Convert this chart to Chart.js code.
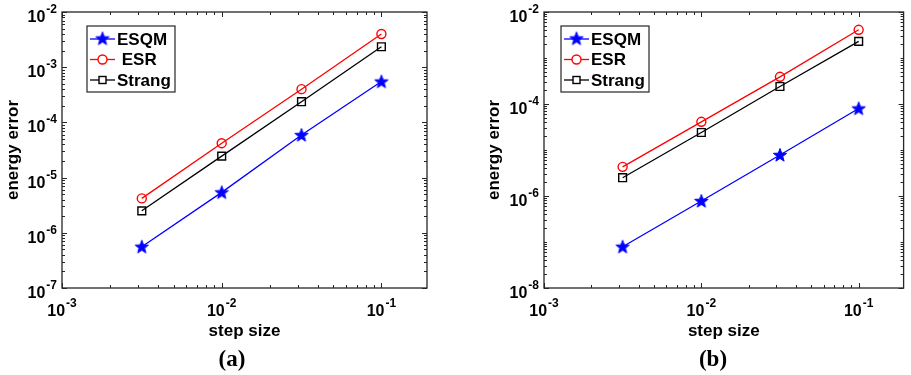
<!DOCTYPE html>
<html lang="en">
<head>
    <meta charset="UTF-8">
    <title>energy error vs step size</title>
    <script src="https://cdn.jsdelivr.net/npm/chart.js"></script>
    <style>
        body { margin: 0; background: #fff; }
        #wrapA { position: absolute; left: 0; top: 0; }
        #wrapB { position: absolute; left: 460px; top: 0; }
    </style>
</head>
<body>
    <div id="wrapA"><canvas id="chartA" width="460" height="375"></canvas></div>
    <div id="wrapB"><canvas id="chartB" width="451" height="375"></canvas></div>

    <script>
        // step sizes (x) shared by both panels
        var stepSizes = [0.00316, 0.01, 0.0316, 0.1];

        // panel (a)
        var esqmA   = [5.6e-7, 5.4e-6, 5.9e-5, 5.5e-4];
        var esrA    = [4.2e-6, 4.2e-5, 4.0e-4, 4.0e-3];
        var strangA = [2.5e-6, 2.45e-5, 2.37e-4, 2.35e-3];

        // panel (b)
        var esqmB   = [7.9e-8, 7.8e-7, 7.8e-6, 8.0e-5];
        var esrB    = [4.3e-6, 4.1e-5, 3.9e-4, 4.1e-3];
        var strangB = [2.5e-6, 2.4e-5, 2.4e-4, 2.3e-3];

        // labelled ticks
        var xTicks  = [1e-3, 1e-2, 1e-1];
        var yTicksA = [1e-7, 1e-6, 1e-5, 1e-4, 1e-3, 1e-2];
        var yTicksB = [1e-8, 1e-6, 1e-4, 1e-2];

        var axisColor = '#262626';
        var sansBold = 'bold 16px "Liberation Sans", Arial, sans-serif';
        var supBold = 'bold 12px "Liberation Sans", Arial, sans-serif';

        function makeStar(color) {
            var c = document.createElement('canvas');
            c.width = 18; c.height = 18;
            var g = c.getContext('2d');
            g.beginPath();
            for (var i = 0; i < 10; i++) {
                var r = i % 2 ? 2.9 : 7.0;
                var a = -Math.PI / 2 + i * Math.PI / 5;
                g.lineTo(9 + r * Math.cos(a), 9.5 + r * Math.sin(a));
            }
            g.closePath();
            g.fillStyle = color;
            g.fill();
            g.strokeStyle = color;
            g.lineWidth = 1;
            g.stroke();
            return c;
        }
        var starImg = makeStar('#0000ff');

        function pts(ys) {
            return stepSizes.map(function (s, i) { return { x: s, y: ys[i] }; });
        }

        function series(label, ys, color, style, radius) {
            return {
                label: label,
                data: pts(ys),
                borderColor: color,
                backgroundColor: 'transparent',
                borderWidth: 1.3,
                pointStyle: style,
                pointRadius: radius,
                pointBorderColor: color,
                pointBackgroundColor: 'transparent',
                pointBorderWidth: 1.4,
                tension: 0
            };
        }

        function expStr(v) {
            return String(Math.round(Math.log10(v)));
        }

        // "10" with a superscript exponent
        function drawPow(ctx, v, x, y, align) {
            var e = expStr(v);
            ctx.font = sansBold;
            var w1 = ctx.measureText('10').width;
            ctx.font = supBold;
            var w2 = ctx.measureText(e).width + 1;
            var x0 = align === 'right' ? x - w1 - w2 : x - (w1 + w2) / 2;
            ctx.textAlign = 'left';
            ctx.textBaseline = 'alphabetic';
            ctx.fillStyle = '#000';
            ctx.font = sansBold;
            ctx.fillText('10', x0, y);
            ctx.font = supBold;
            ctx.fillText(e, x0 + w1 + 1, y - 9);
        }

        function decades(min, max) {
            var out = [];
            for (var p = Math.floor(Math.log10(min)); p <= Math.ceil(Math.log10(max)); p++) {
                for (var m = 1; m <= 9; m++) {
                    var v = m * Math.pow(10, p);
                    if (v >= min * 0.999 && v <= max * 1.001) out.push(v);
                }
            }
            return out;
        }

        function isMajor(v, list) {
            return list.some(function (t) { return Math.abs(Math.log10(t) - Math.log10(v)) < 1e-6; });
        }

        var axesPlugin = {
            id: 'matlabAxes',
            afterDatasetsDraw: function (chart, args, opts) {
                var ctx = chart.ctx;
                var a = chart.chartArea;
                var xs = chart.scales.x, ys = chart.scales.y;
                ctx.save();

                // ticks on all four sides
                ctx.strokeStyle = axisColor;
                ctx.lineWidth = 1;
                decades(xs.min, xs.max).forEach(function (v) {
                    var px = Math.round(xs.getPixelForValue(v)) + 0.5;
                    var len = isMajor(v, opts.xTicks) ? 5 : 3;
                    ctx.beginPath();
                    ctx.moveTo(px, a.bottom); ctx.lineTo(px, a.bottom - len);
                    ctx.moveTo(px, a.top); ctx.lineTo(px, a.top + len);
                    ctx.stroke();
                });
                decades(ys.min, ys.max).forEach(function (v) {
                    var py = Math.round(ys.getPixelForValue(v)) + 0.5;
                    var len = isMajor(v, opts.yTicks) ? 5 : 3;
                    ctx.beginPath();
                    ctx.moveTo(a.left, py); ctx.lineTo(a.left + len, py);
                    ctx.moveTo(a.right, py); ctx.lineTo(a.right - len, py);
                    ctx.stroke();
                });

                // box
                ctx.lineWidth = 1.3;
                ctx.strokeRect(a.left, a.top, a.right - a.left, a.bottom - a.top);

                // tick labels
                opts.xTicks.forEach(function (v) {
                    drawPow(ctx, v, xs.getPixelForValue(v), a.bottom + 28, 'center');
                });
                opts.yTicks.forEach(function (v) {
                    drawPow(ctx, v, a.left - 5, ys.getPixelForValue(v) + 10, 'right');
                });

                // axis titles
                ctx.fillStyle = '#000';
                ctx.font = 'bold 17px "Liberation Sans", Arial, sans-serif';
                ctx.textAlign = 'center';
                ctx.textBaseline = 'alphabetic';
                ctx.fillText('step size', (a.left + a.right) / 2, 336);
                ctx.save();
                ctx.translate(opts.yTitleX, (a.top + a.bottom) / 2);
                ctx.rotate(-Math.PI / 2);
                ctx.fillText('energy error', 0, 0);
                ctx.restore();

                // caption
                ctx.font = 'bold 23px "Liberation Serif", "Times New Roman", serif';
                ctx.fillText(opts.caption, opts.captionX, 366);

                // legend
                var L = opts.legend;
                ctx.fillStyle = '#fff';
                ctx.fillRect(L.x, L.y, L.w, L.h);
                ctx.strokeStyle = axisColor;
                ctx.lineWidth = 1.2;
                ctx.strokeRect(L.x, L.y, L.w, L.h);
                chart.data.datasets.forEach(function (ds, i) {
                    var ry = L.y + 13 + i * 20.5;
                    var lx0 = L.x + 3, lx1 = L.x + 28, mx = (lx0 + lx1) / 2;
                    ctx.strokeStyle = ds.borderColor;
                    ctx.lineWidth = 1.3;
                    ctx.beginPath();
                    ctx.moveTo(lx0, ry); ctx.lineTo(lx1, ry);
                    ctx.stroke();
                    ctx.lineWidth = 1.4;
                    if (ds.pointStyle === 'circle') {
                        ctx.fillStyle = '#fff';
                        ctx.beginPath();
                        ctx.arc(mx, ry, 4.5, 0, Math.PI * 2);
                        ctx.fill();
                        ctx.stroke();
                    } else if (ds.pointStyle === 'rect') {
                        ctx.fillStyle = '#fff';
                        ctx.fillRect(mx - 3.5, ry - 3.5, 7, 7);
                        ctx.strokeRect(mx - 3.5, ry - 3.5, 7, 7);
                    } else {
                        ctx.drawImage(ds.pointStyle, mx - 9, ry - 9.5);
                    }
                    ctx.fillStyle = '#000';
                    ctx.font = 'bold 17px "Liberation Sans", Arial, sans-serif';
                    ctx.textAlign = 'left';
                    ctx.textBaseline = 'middle';
                    ctx.fillText(L.labels[i], lx1 + 2, ry + 1);
                });

                ctx.restore();
            }
        };

        function makeChart(id, sets, yMin, yMax, padding, opts) {
            var ctx = document.getElementById(id).getContext('2d');
            return new Chart(ctx, {
                type: 'line',
                data: { datasets: sets },
                options: {
                    responsive: false,
                    animation: false,
                    layout: { padding: padding },
                    plugins: {
                        legend: { display: false },
                        tooltip: { enabled: false },
                        matlabAxes: opts
                    },
                    scales: {
                        x: { type: 'logarithmic', min: 1e-3, max: 0.193, display: false },
                        y: { type: 'logarithmic', min: yMin, max: yMax, display: false }
                    }
                },
                plugins: [axesPlugin]
            });
        }

        makeChart('chartA', [
            series('ESQM', esqmA, '#0000ff', starImg, 6),
            series('ESR', esrA, '#ff0000', 'circle', 4.5),
            series('Strang', strangA, '#000000', 'rect', 5.5)
        ], 1e-7, 1e-2, { left: 62, right: 33, top: 12, bottom: 87 }, {
            xTicks: xTicks,
            yTicks: yTicksA,
            yTitleX: 18,
            caption: '(a)',
            captionX: 232,
            legend: { x: 87, y: 26, w: 88, h: 66, labels: ['ESQM', ' ESR', 'Strang'] }
        });

        makeChart('chartB', [
            series('ESQM', esqmB, '#0000ff', starImg, 6),
            series('ESR', esrB, '#ff0000', 'circle', 4.5),
            series('Strang', strangB, '#000000', 'rect', 5.5)
        ], 1e-8, 1e-2, { left: 84, right: 3, top: 12, bottom: 87 }, {
            xTicks: xTicks,
            yTicks: yTicksB,
            yTitleX: 39,
            caption: '(b)',
            captionX: 253,
            legend: { x: 101, y: 26, w: 88, h: 66, labels: ['ESQM', 'ESR', 'Strang'] }
        });
    </script>
</body>
</html>
